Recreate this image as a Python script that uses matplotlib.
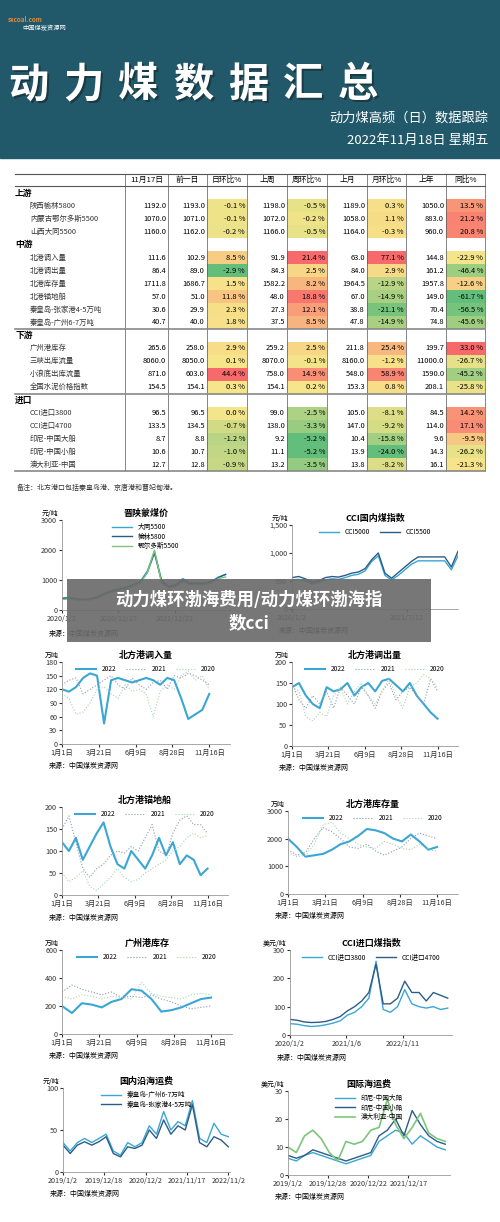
import numpy as np
import matplotlib
matplotlib.use('Agg')
import matplotlib.pyplot as plt
from matplotlib.colors import LinearSegmentedColormap
from matplotlib.patches import Rectangle

plt.rcParams['font.family'] = ['Noto Sans CJK SC', 'DejaVu Sans']

# ---------------- table data ----------------
columns = ['11月17日', '前一日', '日环比%', '上周', '周环比%', '上月', '月环比%', '上年', '同比%']
row_names = ['上游', '陕西榆林5800', '内蒙古鄂尔多斯5500', '山西大同5500',
             '中游', '北港调入量', '北港调出量', '北港库存量', '北港锚地船', '秦皇岛-张家港4-5万吨', '秦皇岛-广州6-7万吨',
             '下游', '广州港库存', '三峡出库流量', '小浪底出库流量', '全国水泥价格指数',
             '进口', 'CCI进口3800', 'CCI进口4700', '印尼-中国大船', '印尼-中国小船', '澳大利亚-中国']
today = [None, 1192.0, 1070.0, 1160.0, None, 111.6, 86.4, 1711.8, 57.0, 30.6, 40.7,
         None, 265.6, 8060.0, 871.0, 154.5, None, 96.5, 133.5, 8.7, 10.6, 12.7]
prev_day = [None, 1193.0, 1071.0, 1162.0, None, 102.9, 89.0, 1686.7, 51.0, 29.9, 40.0,
            None, 258.0, 8050.0, 603.0, 154.1, None, 96.5, 134.5, 8.8, 10.7, 12.8]
day_pct = [None, -0.1, -0.1, -0.2, None, 8.5, -2.9, 1.5, 11.8, 2.3, 1.8,
           None, 2.9, 0.1, 44.4, 0.3, None, 0.0, -0.7, -1.2, -1.0, -0.9]
last_week = [None, 1198.0, 1072.0, 1166.0, None, 91.9, 84.3, 1582.2, 48.0, 27.3, 37.5,
             None, 259.2, 8070.0, 758.0, 154.1, None, 99.0, 138.0, 9.2, 11.1, 13.2]
week_pct = [None, -0.5, -0.2, -0.5, None, 21.4, 2.5, 8.2, 18.8, 12.1, 8.5,
            None, 2.5, -0.1, 14.9, 0.2, None, -2.5, -3.3, -5.2, -5.2, -3.5]
last_month = [None, 1189.0, 1058.0, 1164.0, None, 63.0, 84.0, 1964.5, 67.0, 38.8, 47.8,
              None, 211.8, 8160.0, 548.0, 153.3, None, 105.0, 147.0, 10.4, 13.9, 13.8]
month_pct = [None, 0.3, 1.1, -0.3, None, 77.1, 2.9, -12.9, -14.9, -21.1, -14.9,
             None, 25.4, -1.2, 58.9, 0.8, None, -8.1, -9.2, -15.8, -24.0, -8.2]
last_year = [None, 1050.0, 883.0, 960.0, None, 144.8, 161.2, 1957.8, 149.0, 70.4, 74.8,
             None, 199.7, 11000.0, 1590.0, 208.1, None, 84.5, 114.0, 9.6, 14.3, 16.1]
year_pct = [None, 13.5, 21.2, 20.8, None, -22.9, -46.4, -12.6, -61.7, -56.5, -45.6,
            None, 33.0, -26.7, -45.2, -25.8, None, 14.2, 17.1, -9.5, -26.2, -21.3]

# ---------------- chart data ----------------
datong = [400, 420, 380, 350, 380, 450, 560, 650, 700, 760, 850, 950, 1300, 1950, 1000, 800, 860, 1050, 900, 900, 900, 950, 1100, 1180]
yulin = [380, 400, 360, 330, 360, 430, 530, 620, 680, 730, 820, 920, 1250, 1900, 950, 760, 820, 1000, 880, 880, 880, 930, 1080, 1190]
ordos = [350, 370, 340, 310, 340, 400, 500, 600, 650, 700, 800, 900, 1250, 2000, 900, 720, 780, 950, 840, 850, 850, 900, 1050, 1100]

cci5000 = [520, 530, 500, 450, 470, 520, 540, 530, 560, 600, 620, 680, 850, 950, 600, 520, 600, 700, 800, 860, 860, 860, 860, 860, 700, 950]
cci5500 = [560, 580, 540, 480, 500, 560, 580, 570, 600, 640, 660, 720, 880, 1000, 640, 550, 650, 750, 850, 930, 930, 930, 930, 930, 750, 1030]

in_2022 = [120, 115, 125, 145, 155, 150, 45, 140, 145, 140, 135, 140, 145, 140, 130, 145, 140, 100, 55, 65, 75, 110]
in_2021 = [130, 140, 145, 110, 120, 130, 140, 150, 130, 120, 145, 130, 120, 135, 140, 120, 150, 145, 155, 150, 140, 130]
in_2020 = [110, 100, 65, 70, 90, 120, 125, 110, 100, 130, 115, 120, 110, 60, 115, 130, 120, 150, 160, 140, 150, 120]

out_2022 = [140, 150, 120, 100, 90, 140, 130, 135, 150, 120, 140, 150, 130, 155, 160, 145, 130, 150, 120, 100, 80, 65]
out_2021 = [150, 110, 90, 120, 100, 130, 90, 140, 120, 100, 140, 120, 90, 130, 150, 110, 130, 140, 120, 100, 160, 130]
out_2020 = [140, 130, 70, 60, 80, 70, 120, 140, 100, 130, 150, 120, 100, 130, 160, 120, 90, 140, 150, 170, 160, 140]

anc_2022 = [120, 100, 130, 80, 110, 140, 165, 110, 70, 60, 100, 80, 60, 90, 130, 90, 120, 70, 90, 80, 45, 60]
anc_2021 = [150, 180, 120, 60, 40, 60, 70, 90, 100, 95, 110, 100, 130, 160, 100, 90, 140, 170, 180, 160, 160, 140]
anc_2020 = [50, 30, 40, 55, 20, 10, 25, 40, 60, 40, 30, 35, 50, 60, 70, 80, 100, 110, 130, 140, 130, 135]

stk_2022 = [2000, 1700, 1350, 1400, 1450, 1600, 1800, 1900, 2100, 2350, 2300, 2200, 2000, 1900, 2150, 1900, 1600, 1700]
stk_2021 = [1600, 1400, 1500, 2000, 2400, 2250, 2000, 1700, 1650, 1800, 1550, 1400, 1550, 1700, 2000, 2200, 2100, 2000]
stk_2020 = [1500, 1350, 1400, 1800, 2500, 2600, 2200, 2000, 1800, 1700, 1650, 1900, 1800, 1650, 1600, 1800, 1600, 1550]

gz_2022 = [200, 150, 220, 210, 190, 230, 250, 320, 310, 250, 160, 170, 190, 220, 250, 260]
gz_2021 = [300, 350, 320, 300, 280, 300, 260, 270, 260, 280, 250, 230, 200, 180, 190, 200]
gz_2020 = [270, 250, 280, 270, 250, 270, 260, 250, 370, 290, 270, 260, 250, 280, 290, 280]

imp3800 = [40, 38, 33, 30, 32, 36, 42, 50, 70, 80, 100, 130, 260, 90, 80, 100, 160, 110, 100, 95, 100, 90, 95]
imp4700 = [55, 52, 46, 44, 45, 48, 55, 65, 85, 100, 120, 150, 250, 110, 110, 130, 190, 150, 150, 120, 150, 140, 130]

gz_freight = [35, 25, 35, 40, 35, 40, 45, 25, 20, 35, 30, 35, 55, 45, 72, 50, 60, 55, 85, 40, 35, 58, 45, 42]
zj_freight = [32, 22, 32, 36, 32, 36, 42, 22, 18, 30, 28, 32, 50, 40, 62, 45, 55, 50, 80, 35, 30, 42, 38, 30]

big_ship = [6, 5, 7, 8, 7, 6, 5, 4, 5, 6, 7, 12, 14, 16, 15, 11, 14, 12, 10, 9]
small_ship = [7, 6, 7, 9, 8, 7, 6, 5, 6, 7, 8, 14, 16, 20, 14, 23, 18, 14, 12, 11]
aus_ship = [10, 8, 14, 16, 13, 8, 5, 12, 11, 12, 16, 17, 27, 18, 13, 17, 22, 15, 13, 12]

doy_ticks = ['1月1日', '3月21日', '6月9日', '8月28日', '11月16日']

LB = '#3aa6d6'
DB = '#2b5d86'
GR = '#7cc57a'
GRAY1 = '#8a9bb0'
GRAY2 = '#a8d3b0'

W, H = 500, 1222
fig = plt.figure(figsize=(W / 100, H / 100), dpi=100)
fig.patch.set_facecolor('white')

base = fig.add_axes([0, 0, 1, 1])
base.set_xlim(0, W)
base.set_ylim(H, 0)
base.axis('off')


def px(x0, y0, x1, y1):
    return [x0 / W, 1 - y1 / H, (x1 - x0) / W, (y1 - y0) / H]


# ---------------- header ----------------
base.add_patch(Rectangle((0, 0), W, 158, color='#21596a'))
base.text(8, 22, 'sxcoal.com', color='#e58a3a', fontsize=4.5, fontweight='bold')
base.text(22, 30, '中国煤炭资源网', color='white', fontsize=4.5)
for i, ch in enumerate('动力煤数据汇总'):
    base.text(30 + i * 55, 87, ch, color='#1a3a44', fontsize=29, fontweight='bold', ha='center', va='center')
    base.text(28 + i * 55, 85, ch, color='white', fontsize=29, fontweight='bold', ha='center', va='center')
base.text(488, 118, '动力煤高频（日）数据跟踪', color='white', fontsize=9.5, ha='right', va='center')
base.text(488, 140, '2022年11月18日 星期五', color='white', fontsize=9.5, ha='right', va='center')

# ---------------- table ----------------
vlines = [125, 168, 207, 247, 287, 327, 367, 406, 446, 485]
y0 = 180
dy = 12.95
cmap = LinearSegmentedColormap.from_list('gyr', ['#63be7b', '#f7e58a', '#f8696b'])


def pct_color(v, col):
    vals = np.array([c for c in col if c is not None])
    med = np.median(vals)
    lo, hi = vals.min(), vals.max()
    if v <= med:
        t = 0.5 * (v - lo) / (med - lo) if med > lo else 0.5
    else:
        t = 0.5 + 0.5 * (v - med) / (hi - med)
    return cmap(t)


pct_cols = {2: day_pct, 4: week_pct, 6: month_pct, 8: year_pct}
num_cols = {0: today, 1: prev_day, 3: last_week, 5: last_month, 7: last_year}

for j, name in enumerate(columns):
    base.text((vlines[j] + vlines[j + 1]) / 2, y0, name, fontsize=5.6, ha='center', va='center')
for i, name in enumerate(row_names):
    y = y0 + (i + 1) * dy
    if today[i] is None:
        base.text(15, y, name, fontsize=6.3, fontweight='bold', va='center')
        continue
    base.text(30, y, name, fontsize=5.3, va='center', color='#333333')
    for j, col in num_cols.items():
        base.text(vlines[j + 1] - 2, y, f'{col[i]:.1f}', fontsize=5.4, ha='right', va='center')
    for j, col in pct_cols.items():
        base.add_patch(Rectangle((vlines[j], y - dy / 2), vlines[j + 1] - vlines[j], dy,
                                 color=pct_color(col[i], col), lw=0))
        base.text(vlines[j + 1] - 2, y, f'{col[i]:.1f} %', fontsize=5.4, ha='right', va='center')

y_end = y0 + (len(row_names) + 0.5) * dy
for x in vlines:
    base.plot([x, x], [y0 - dy / 2, y_end], color='#555555', lw=0.5)
base.plot([15, 485], [y0 - dy / 2, y0 - dy / 2], color='#555555', lw=0.8)
base.plot([15, 485], [y0 + dy / 2, y0 + dy / 2], color='#555555', lw=0.8)
for i in [11, 16]:
    yy = y0 + (i + 0.5) * dy
    base.plot([15, 485], [yy, yy], color='#888888', lw=1.2)
base.plot([15, 485], [y_end, y_end], color='#888888', lw=1.2)
base.text(17, 488, '备注：北方港口包括秦皇岛港、京唐港和曹妃甸港。', fontsize=5, style='italic', color='#333333', va='center')


# ---------------- charts ----------------
def chart(box, title, series, ylim, yticks, xticks, xlabels, unit=None, legend_cols=3,
          legend_loc='upper center', legend_anchor=None, yfmt=None):
    ax = fig.add_axes(px(*box))
    for s, c, ls, lw, lab in series:
        x = np.linspace(0, xspan[0], len(s))
        ax.plot(x, s, color=c, ls=ls, lw=lw, label=lab)
    ax.set_xlim(0, xspan[1])
    ax.set_ylim(*ylim)
    ax.set_yticks(yticks)
    if yfmt:
        ax.set_yticklabels([yfmt(v) for v in yticks])
    ax.set_xticks(xticks)
    ax.set_xticklabels(xlabels)
    ax.tick_params(labelsize=5.2, length=2, pad=1.5, colors='#333333')
    for sp in ['top', 'right']:
        ax.spines[sp].set_visible(False)
    for sp in ['left', 'bottom']:
        ax.spines[sp].set_color('#999999')
        ax.spines[sp].set_linewidth(0.6)
    ax.set_title(title, fontsize=6.5, fontweight='bold', pad=3)
    if unit:
        ax.text(-0.02, 1.02, unit, transform=ax.transAxes, fontsize=5, ha='right', va='bottom')
    kw = dict(loc=legend_loc, ncol=legend_cols, fontsize=4.8, frameon=False, handlelength=3,
              borderaxespad=0.1, columnspacing=1.5, labelspacing=0.2)
    if legend_anchor:
        kw['bbox_to_anchor'] = legend_anchor
    ax.legend(**kw)
    ax.text(-0.08, -0.22, '来源：中国煤炭资源网', transform=ax.transAxes, fontsize=5, va='top')
    return ax


xspan = (148, 152)
chart((62, 520, 230, 610), '晋陕蒙煤价',
      [(datong, LB, '-', 1.0, '大同5500'), (yulin, DB, '-', 1.0, '榆林5800'), (ordos, GR, '-', 1.0, '鄂尔多斯5500')],
      (0, 3000), [0, 1000, 2000, 3000], [0, 51, 102], ['2020/1/2', '2020/12/27', '2021/12/22'],
      unit='元/吨', legend_cols=1, legend_loc='upper left', legend_anchor=(0.28, 1.0))

xspan = (150, 150)
chart((292, 525, 458, 609), 'CCI国内煤指数',
      [(cci5000, LB, '-', 1.0, 'CCI5000'), (cci5500, DB, '-', 1.0, 'CCI5500')],
      (0, 1500), [0, 500, 1000, 1500], [0, 104], ['2020/1/2', '2021/7/12'],
      unit='元/吨', legend_cols=2, yfmt=lambda v: f'{v:,}')

xspan = (320, 365)
chart((62, 662, 230, 744), '北方港调入量',
      [(in_2022, LB, '-', 1.5, '2022'), (in_2021, GRAY1, ':', 0.8, '2021'), (in_2020, GRAY2, ':', 0.8, '2020')],
      (0, 180), [0, 30, 60, 90, 120, 150, 180], [0, 80, 160, 240, 320], doy_ticks, unit='万吨')

chart((292, 662, 458, 746), '北方港调出量',
      [(out_2022, LB, '-', 1.5, '2022'), (out_2021, GRAY1, ':', 0.8, '2021'), (out_2020, GRAY2, ':', 0.8, '2020')],
      (0, 200), [0, 50, 100, 150, 200], [0, 80, 160, 240, 320], doy_ticks, unit='万吨')

chart((62, 807, 228, 895), '北方港锚地船',
      [(anc_2022, LB, '-', 1.5, '2022'), (anc_2021, GRAY1, ':', 0.8, '2021'), (anc_2020, GRAY2, ':', 0.8, '2020')],
      (0, 200), [0, 50, 100, 150, 200], [0, 80, 160, 240, 320], doy_ticks)

chart((288, 811, 458, 894), '北方港库存量',
      [(stk_2022, LB, '-', 1.5, '2022'), (stk_2021, GRAY1, ':', 0.8, '2021'), (stk_2020, GRAY2, ':', 0.8, '2020')],
      (0, 3000), [0, 1000, 2000, 3000], [0, 80, 160, 240, 320], doy_ticks, unit='万吨')

chart((62, 950, 232, 1034), '广州港库存',
      [(gz_2022, LB, '-', 1.5, '2022'), (gz_2021, GRAY1, ':', 0.8, '2021'), (gz_2020, GRAY2, ':', 0.8, '2020')],
      (0, 600), [0, 200, 400, 600], [0, 80, 160, 240, 320], doy_ticks, unit='万吨')

xspan = (148, 152)
chart((290, 950, 452, 1035), 'CCI进口煤指数',
      [(imp3800, LB, '-', 1.0, 'CCI进口3800'), (imp4700, DB, '-', 1.0, 'CCI进口4700')],
      (0, 300), [0, 100, 200, 300], [0, 53, 106], ['2020/1/2', '2021/1/6', '2022/1/11'],
      unit='美元/吨', legend_cols=2)

xspan = (200, 202)
chart((63, 1088, 230, 1172), '国内沿海运费',
      [(gz_freight, LB, '-', 1.0, '秦皇岛-广州6-7万吨'), (zj_freight, DB, '-', 1.0, '秦皇岛-张家港4-5万吨')],
      (0, 100), [0, 50, 100], [0, 50, 100, 150, 200],
      ['2019/1/2', '2019/12/18', '2020/12/2', '2021/11/17', '2022/11/2'], unit='元/吨', legend_cols=1)

xspan = (200, 206)
chart((288, 1091, 450, 1175), '国际海运费',
      [(big_ship, LB, '-', 1.0, '印尼-中国大船'), (small_ship, DB, '-', 1.0, '印尼-中国小船'), (aus_ship, GR, '-', 1.2, '澳大利亚-中国')],
      (0, 30), [0, 10, 20, 30], [0, 51, 102, 153],
      ['2019/1/2', '2019/12/28', '2020/12/22', '2021/12/17'], unit='美元/吨', legend_cols=1)

# ---------------- banner ----------------
top = fig.add_axes([0, 0, 1, 1])
top.set_xlim(0, W)
top.set_ylim(H, 0)
top.axis('off')
top.add_patch(Rectangle((67, 579), 364, 63, color='#6b6b6b', alpha=0.92, lw=0))
top.text(249, 600, '动力煤环渤海费用/动力煤环渤海指', color='white', fontsize=12.5, fontweight='bold', ha='center', va='center')
top.text(249, 623, '数cci', color='white', fontsize=12.5, fontweight='bold', ha='center', va='center')

fig.savefig('out.png', dpi=100)
